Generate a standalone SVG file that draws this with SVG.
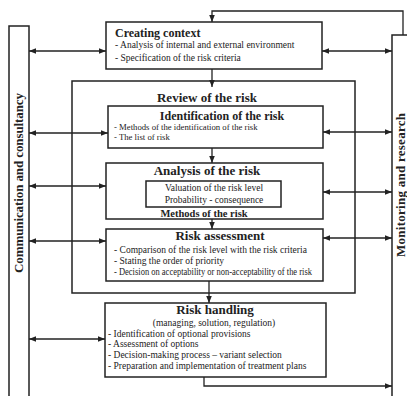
<svg xmlns="http://www.w3.org/2000/svg" width="407" height="396" viewBox="0 0 407 396">
<style>
.box{fill:#fff;stroke:#222;stroke-width:1.5}
.ln{fill:none;stroke:#222;stroke-width:1.3}
.t{font-family:"Liberation Serif","Times New Roman",serif;fill:#222}
.ti{font-weight:bold;font-size:13px}
.b{font-size:9.5px}
.side{font-weight:bold;font-size:13px}
</style>
<defs>
<marker id="ah" viewBox="0 0 10 10" refX="10" refY="5" markerWidth="7" markerHeight="7" markerUnits="userSpaceOnUse" orient="auto-start-reverse"><path d="M0,1 L10,5 L0,9 z" fill="#222"/></marker>
</defs>
<rect width="407" height="396" fill="#fff"/>
<g id="communication">
<rect class="box" x="9" y="26" width="20" height="375"/>
<text class="t side" transform="translate(23,183) rotate(-90)" text-anchor="middle" textLength="180">Communication and consultancy</text>
</g>
<g id="monitoring">
<rect class="box" x="392" y="35" width="20" height="370"/>
<text class="t side" transform="translate(405,185) rotate(-90)" text-anchor="middle" textLength="144">Monitoring and research</text>
</g>
<g id="review">
<rect class="box" x="72" y="81" width="283" height="212"/>
<text class="t ti" x="207" y="102" text-anchor="middle">Review of the risk</text>
</g>
<g id="context">
<rect class="box" x="106" y="22" width="216" height="47"/>
<text class="t ti" x="115" y="37" style="font-size:12px">Creating context</text>
<text class="t b" x="115" y="48">- Analysis of internal and external environment</text>
<text class="t b" x="115" y="61">- Specification of the risk criteria</text>
</g>
<g id="identification">
<rect class="box" x="108" y="106" width="215" height="42"/>
<text class="t ti" x="222" y="120" text-anchor="middle" style="font-size:12px">Identification of the risk</text>
<text class="t b" x="114" y="130" style="font-size:8.7px">- Methods of the identification of the risk</text>
<text class="t b" x="114" y="140" style="font-size:8.7px">- The list of risk</text>
</g>
<g id="analysis">
<rect class="box" x="106" y="163" width="217" height="56"/>
<text class="t ti" x="207" y="175" text-anchor="middle">Analysis of the risk</text>
<rect class="box" x="146" y="181" width="135" height="26"/>
<text class="t b" x="214" y="191" text-anchor="middle">Valuation of the risk level</text>
<text class="t b" x="214" y="203" text-anchor="middle">Probability - consequence</text>
<text class="t" x="204" y="217" text-anchor="middle" style="font-weight:bold;font-size:10.5px">Methods of the risk</text>
</g>
<g id="assessment">
<rect class="box" x="106" y="229" width="217" height="52"/>
<text class="t ti" x="220" y="240" text-anchor="middle">Risk assessment</text>
<text class="t b" x="114" y="253">- Comparison of the risk level with the risk criteria</text>
<text class="t b" x="114" y="264">- Stating the order of priority</text>
<text class="t b" x="114" y="275" textLength="198" lengthAdjust="spacingAndGlyphs">- Decision on acceptability or non-acceptability of the risk</text>
</g>
<g id="handling">
<rect class="box" x="105" y="303" width="221" height="74"/>
<text class="t ti" x="215" y="314" text-anchor="middle">Risk handling</text>
<text class="t b" x="214" y="326" text-anchor="middle">(managing, solution, regulation)</text>
<text class="t b" x="108" y="337">- Identification of  optional provisions</text>
<text class="t b" x="108" y="347">- Assessment of options</text>
<text class="t b" x="108" y="358">- Decision-making process – variant selection</text>
<text class="t b" x="108" y="369">- Preparation and implementation of treatment plans</text>
</g>
<g id="connectors">
<path class="ln" d="M403,35 V11 H212 V22" marker-end="url(#ah)"/>
<line class="ln" x1="29" y1="51" x2="106" y2="51" marker-start="url(#ah)" marker-end="url(#ah)"/>
<line class="ln" x1="322" y1="51" x2="392" y2="51" marker-start="url(#ah)" marker-end="url(#ah)"/>
<line class="ln" x1="212" y1="69" x2="212" y2="87" marker-end="url(#ah)"/>
<line class="ln" x1="212" y1="148" x2="212" y2="163" marker-end="url(#ah)"/>
<line class="ln" x1="212" y1="219" x2="212" y2="229" marker-end="url(#ah)"/>
<line class="ln" x1="209" y1="281" x2="209" y2="303" marker-end="url(#ah)"/>
<path class="ln" d="M204,377 V386 H392" marker-end="url(#ah)"/>
<line class="ln" x1="29" y1="133" x2="108" y2="133" marker-start="url(#ah)" marker-end="url(#ah)"/>
<line class="ln" x1="29" y1="186" x2="106" y2="186" marker-start="url(#ah)" marker-end="url(#ah)"/>
<line class="ln" x1="29" y1="241" x2="106" y2="241" marker-start="url(#ah)" marker-end="url(#ah)"/>
<line class="ln" x1="29" y1="339" x2="105" y2="339" marker-start="url(#ah)" marker-end="url(#ah)"/>
<line class="ln" x1="323" y1="132" x2="392" y2="132" marker-start="url(#ah)" marker-end="url(#ah)"/>
<line class="ln" x1="323" y1="192" x2="392" y2="192" marker-start="url(#ah)" marker-end="url(#ah)"/>
<line class="ln" x1="323" y1="238" x2="392" y2="238" marker-start="url(#ah)" marker-end="url(#ah)"/>
</g>
</svg>
